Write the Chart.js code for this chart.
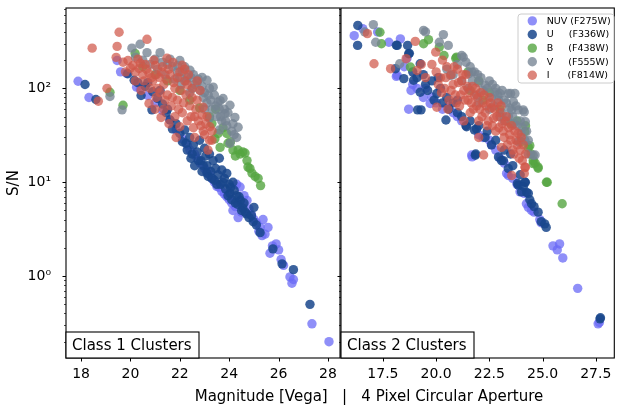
<!DOCTYPE html>
<html><head><meta charset="utf-8">
<script src="https://cdn.jsdelivr.net/npm/chart.js@4.4.1/dist/chart.umd.min.js"></script>
<style>
html,body{margin:0;padding:0;background:#fff;}
#wrap{position:relative;width:619px;height:409px;overflow:hidden;background:#fff;}
#c1{position:absolute;left:0;top:0;}
#c2{position:absolute;left:330px;top:0;}
</style></head><body>
<div id="wrap"><canvas id="c1" width="619" height="409"></canvas><canvas id="c2" width="289" height="409"></canvas></div>
<script>
// ---------- DATA ----------
const seriesLabels = ['NUV (F275W)', 'U     (F336W)', 'B     (F438W)', 'V     (F555W)', 'I      (F814W)'];
const panelLabels = ['Class 1 Clusters', 'Class 2 Clusters'];
const xAxisTitle = 'Magnitude [Vega]   |   4 Pixel Circular Aperture';
const yAxisTitle = 'S/N';
const class1XTicks = [18, 20, 22, 24, 26, 28];
const class2XTicks = [17.5, 20, 22.5, 25, 27.5];
const yMajorTicks = [1, 10, 100];
const yMajorLabels = ['10⁰', '10¹', '10²'];

// Class 1 clusters: [magnitude, S/N]
const class1NUV = [[17.88,119],[18.32,80],[19.46,198],[19.6,150],[19.85,144],[20.25,103],[20.4,98],[20.7,84],[21.0,70],[21.3,58],[21.6,46],[21.85,36],[22.1,29],[22.41,22],[22.6,20],[22.82,16],[23.0,14],[23.2,12],[23.4,10],[23.6,8.8],[23.8,7.5],[24.0,6.5],[24.15,5.0],[24.3,9.5],[24.36,4.2],[24.44,8.9],[24.5,4.8],[24.6,7.2],[24.72,6.4],[24.9,4.5],[25.1,3.7],[25.2,3.0],[25.33,2.7],[25.37,4.0],[25.57,3.3],[25.65,1.75],[25.9,2.2],[26.0,1.9],[26.1,1.5],[26.2,1.3],[26.46,0.98],[26.54,0.84],[26.6,0.92],[27.35,0.31],[28.04,0.20],
  [22.3,25],[22.7,18],[23.1,13],[23.3,11],[23.5,9],[23.7,8],[23.9,7],[24.1,6],[24.25,5.5],[24.55,5.8],[24.8,5.2],[25.0,4.0],[25.25,3.3],[25.45,2.8],[25.75,2.1]];
const class1U = [[18.16,110],[18.6,76],[19.89,143],[20.15,122],[20.3,115],[20.43,84],[20.6,105],[20.87,59],[20.9,92],[21.1,78],[21.3,68],[21.45,55],[21.6,46],[21.7,37],[21.85,42],[22.0,33],[22.1,27],[22.2,36],[22.3,22],[22.4,30],[22.45,18],[22.55,25],[22.6,15],[22.7,21],[22.8,28],[22.85,17],[22.9,13],[23.0,23],[23.05,19],[23.1,15],[23.15,11.5],[23.2,20],[23.25,13],[23.35,17],[23.4,10.5],[23.45,14],[23.55,12],[23.6,18],[23.65,9.5],[23.7,13.5],[23.8,11],[23.85,8.5],[23.9,12.4],[24.0,9.5],[24.03,7.6],[24.1,6.5],[24.15,10],[24.2,8.2],[24.3,7.2],[24.35,5.8],[24.45,6.4],[24.5,5.0],[24.6,6.0],[24.7,4.6],[24.8,4.2],[25.0,5.4],[24.97,3.8],[25.1,3.5],[25.25,2.9],[25.77,1.95],[26.14,1.35],[26.6,1.17],[27.27,0.5],
  [22.25,26],[22.5,20],[22.75,17],[22.95,15],[23.1,12.5],[23.3,11],[23.5,9.5],[23.75,10],[23.95,7.2],[24.05,8.8],[24.25,6],[24.4,7],[24.55,5.3],[24.65,4.8],[24.9,4.4],[21.5,60],[21.2,95],[20.7,115]];
const class1B = [[19.17,91],[19.7,66],[20.19,235],[20.5,170],[21.0,140],[21.5,120],[22.0,95],[22.4,75],[22.8,62],[23.2,50],[23.45,60],[23.3,42],[23.42,29],[23.63,23.5],[23.55,33],[23.75,38],[23.9,33],[23.95,26],[24.05,27],[24.15,22],[24.25,19],[24.36,22],[24.44,20],[24.55,21],[24.64,20.5],[24.72,17],[24.76,14.5],[24.84,14],[24.92,12.5],[25.05,11.5],[25.17,11],[25.27,9.2]];
const class1V = [[19.17,82],[19.66,59],[20.06,268],[20.39,295],[20.67,240],[21.2,240],[20.2,215],[20.5,200],[20.8,180],[21.0,205],[21.1,160],[21.3,190],[21.4,140],[21.6,205],[21.7,170],[21.8,125],[21.9,150],[22.0,198],[22.05,110],[22.2,170],[22.3,130],[22.41,156],[22.5,100],[22.55,140],[22.7,115],[22.82,95],[22.9,131],[22.95,80],[23.1,122],[23.1,70],[23.2,100],[23.3,60],[23.35,103],[23.4,85],[23.5,50],[23.55,71],[23.63,74],[23.7,45],[23.75,78],[23.8,60],[23.83,54],[23.9,40],[24.03,66],[24.1,35],[24.23,49],[24.3,30],[24.36,38.5],[24.03,26],[23.6,36],[23.2,48],
  [21.5,180],[21.9,175],[22.1,150],[22.25,120],[22.45,130],[22.6,110],[22.75,125],[22.9,105],[23.0,90],[23.15,85],[23.25,75],[23.45,65],[23.6,60],[23.65,50],[23.85,45],[23.95,55],[24.15,42],[24.2,32],[22.4,90],[23.0,60],[22.0,130]];
const class1I = [[18.45,268],[18.7,73],[19.05,100],[19.46,280],[19.54,396],[20.67,333],[19.42,214],[19.7,190],[19.9,198],[20.1,175],[20.3,205],[20.35,163],[20.43,95],[20.5,140],[20.6,180],[20.75,145],[20.75,69],[20.9,120],[20.95,200],[21.04,80],[21.1,100],[21.16,131],[21.24,49],[21.3,170],[21.35,110],[21.48,209],[21.5,85],[21.56,42],[21.6,140],[21.65,65],[21.72,189],[21.8,100],[21.85,30],[21.9,75],[22.0,39],[22.0,150],[22.09,176],[22.1,55],[22.2,120],[22.25,85],[22.3,45],[22.4,65],[22.5,100],[22.6,30],[22.6,50],[22.7,75],[22.82,95],[22.85,40],[22.94,63],[23.0,32],[23.1,50],[23.14,22],[23.22,39],[23.3,28],[21.0,60],[20.2,120],[19.8,150],[21.9,130],[22.35,140],
  [20.0,165],[20.2,150],[20.4,185],[20.55,120],[20.65,160],[20.8,100],[20.85,130],[21.0,175],[21.05,140],[21.2,90],[21.25,150],[21.4,75],[21.45,125],[21.55,160],[21.7,80],[21.75,115],[21.95,60],[22.05,95],[22.15,70],[22.3,110],[22.45,50],[22.5,80],[22.55,38],[22.65,60],[22.75,45],[22.9,52],[22.95,35],[23.05,42],[23.2,28],[23.3,35],[22.7,120],[22.2,160],[21.35,60],[21.8,50]];

// Class 2 clusters: [magnitude, S/N]
const class2NUV = [[16.15,364],[16.55,433],[17.25,398],[17.78,310],[18.32,337],[18.13,134],[18.17,138],[18.63,208],[18.71,60],[18.82,95],[19.72,69],[19.8,81],[19.5,100],[20.0,70],[20.3,60],[20.8,55],[21.2,45],[21.67,19.5],[21.69,18.6],[22.0,32],[22.5,28],[22.8,22],[23.0,18],[23.31,12.4],[23.39,11.8],[23.6,11],[23.94,7.9],[24.14,7.6],[24.24,5.9],[24.33,5.4],[24.48,5.0],[24.87,4.0],[24.93,3.7],[25.49,2.1],[25.8,2.2],[25.69,1.9],[25.95,1.56],[26.65,0.74],[27.61,0.31],[27.67,0.32],
  [18.5,170],[18.9,110],[19.1,100],[19.4,80],[20.6,65],[21.0,50],[22.2,30],[22.6,25],[23.2,16],[23.8,9.5],[24.6,4.8]];
const class2U = [[16.32,468],[16.31,287],[18.13,288],[18.17,287],[18.66,287],[18.71,234],[18.74,236],[19.25,183],[18.09,162],[18.48,127],[18.94,122],[19.25,91],[20.03,88],[19.13,59],[19.29,59],[19.5,110],[19.8,120],[20.2,100],[20.5,80],[20.46,46],[20.8,70],[21.0,55],[21.4,40],[21.43,39],[21.8,36],[21.9,37],[21.84,19.4],[21.86,20],[22.3,30],[22.6,25],[22.93,18.6],[23.07,17],[23.16,17],[23.39,14],[23.5,20],[23.82,9.7],[23.86,9.3],[24.01,7.9],[24.17,10],[24.19,10],[24.25,7.8],[24.33,7.6],[24.4,6.5],[24.48,5.9],[24.79,4.8],[24.94,3.8],[25.1,3.6],[25.17,3.3],[27.7,0.35],[27.72,0.36],
  [18.9,150],[19.1,130],[19.4,140],[19.6,95],[19.9,75],[20.1,130],[20.3,70],[20.6,60],[21.0,75],[21.2,50],[21.6,45],[22.0,40],[22.4,35],[22.8,28],[23.2,22],[23.6,15],[23.95,12],[24.1,9],[24.6,5.5]];
const class2B = [[17.36,396],[17.43,299],[18.79,169],[19.41,299],[19.64,330],[20.15,275],[20.37,224],[20.96,215],[20.92,209],[21.5,150],[21.6,95],[22.0,120],[22.2,75],[22.5,90],[23.0,60],[23.5,42],[23.8,45],[24.2,40],[24.17,34.5],[24.0,27],[24.33,23.5],[24.4,24.5],[24.46,20],[24.56,17],[24.65,16],[24.56,15.8],[24.79,14.5],[24.79,14.1],[25.18,10],[25.22,10],[25.92,5.9]];
const class2V = [[16.65,398],[17.05,478],[17.16,310],[18.29,183],[19.41,415],[19.5,400],[20.15,310],[20.34,374],[20.57,287],[21.27,215],[21.2,224],[21.0,180],[21.53,143],[21.69,149],[21.8,150],[22.0,115],[22.31,108],[22.5,120],[22.77,91],[22.8,100],[23.0,88],[23.2,75],[23.39,88],[23.5,88],[23.63,72],[23.7,88],[23.86,59],[24.09,59],[24.14,56],[24.19,44],[23.4,50],[23.8,40],[24.0,33],[24.17,28],[23.86,27],[24.33,28],[24.33,20],[24.56,19.4],[24.65,19.5],[22.0,70],[22.5,60],[23.0,50],[21.5,100],[21.9,85],[20.8,140],[21.2,120],[20.5,160],[20.68,137],[22.6,80],[23.2,45],[22.93,75],[23.55,59],
  [21.4,190],[21.6,170],[21.7,120],[21.95,140],[22.1,130],[22.2,95],[22.4,100],[22.65,110],[22.9,85],[23.1,95],[23.3,70],[23.45,62],[23.6,50],[23.75,65],[23.95,45],[24.05,38],[24.25,35],[22.7,65],[23.1,55],[23.65,42]];
const class2I = [[16.77,383],[17.08,183],[17.86,162],[18.59,207],[19.02,317],[19.1,155],[19.98,243],[20.03,63],[19.8,180],[20.0,150],[20.2,130],[20.3,200],[20.4,100],[20.5,170],[20.6,75],[20.7,140],[20.8,110],[20.9,85],[21.0,160],[21.1,65],[21.2,120],[21.3,95],[21.4,140],[21.5,75],[21.6,55],[21.7,105],[21.8,85],[21.9,65],[22.0,45],[22.1,90],[22.2,70],[22.23,19.5],[22.3,55],[22.4,40],[22.5,80],[22.6,62],[22.7,48],[22.8,35],[22.9,70],[23.0,55],[23.1,42],[23.07,23.5],[23.2,30],[23.3,50],[23.4,38],[23.5,28],[23.55,11.8],[23.6,22],[23.7,35],[23.8,25],[23.9,18],[24.0,30],[24.14,12.4],[24.17,14.5],[24.19,14.4],[24.2,20],[22.0,30],[21.3,45],
  [20.1,110],[20.25,90],[20.45,130],[20.55,60],[20.7,95],[20.85,170],[20.95,70],[21.05,115],[21.15,85],[21.25,140],[21.35,75],[21.45,105],[21.55,90],[21.65,70],[21.75,60],[21.85,100],[21.95,80],[22.05,60],[22.15,50],[22.25,85],[22.35,65],[22.45,45],[22.55,70],[22.65,40],[22.75,60],[22.85,50],[22.95,38],[23.05,65],[23.15,35],[23.25,45],[23.35,25],[23.45,32],[23.55,40],[23.65,20],[23.75,28],[23.85,33],[23.95,22],[24.05,17],[24.1,25],[19.5,130],[19.3,180]];

const class1Series = [class1NUV, class1U, class1B, class1V, class1I];
const class2Series = [class2NUV, class2U, class2B, class2V, class2I];

// ---------- STYLE ----------
const COLORS = ['rgba(105,105,245,0.75)', 'rgba(25,70,140,0.85)', 'rgba(85,165,65,0.8)', 'rgba(118,132,148,0.78)', 'rgba(208,88,74,0.72)'];
const FONT = 'DejaVu Sans';
const Y_MIN = 0.134, Y_MAX = 718;
const PT_R = 4.7;

function minorTicks(min, max) {
  const out = [];
  for (let e = -1; e <= 2; e++) for (let m = 2; m <= 9; m++) { const v = m * Math.pow(10, e); if (v >= min && v <= max) out.push(v); }
  return out;
}
const yMinor = minorTicks(Y_MIN, Y_MAX);

function makeDatasets(series) {
  return series.map((arr, i) => ({
    label: seriesLabels[i],
    data: arr.map(p => ({ x: p[0], y: p[1] })),
    backgroundColor: COLORS[i],
    borderWidth: 0,
    pointRadius: PT_R,
    pointHoverRadius: PT_R,
    order: 5 - i
  }));
}

function decoPlugin(panelIdx, xTicks) {
  return {
    id: 'deco' + panelIdx,
    afterDatasetsDraw(chart) {
      const ctx = chart.ctx, a = chart.chartArea, xs = chart.scales.x, ys = chart.scales.y;
      ctx.save();
      ctx.strokeStyle = '#000';
      ctx.lineWidth = 1;
      ctx.beginPath();
      yMajorTicks.forEach(v => { const y = Math.round(ys.getPixelForValue(v)) + 0.5; ctx.moveTo(a.left, y); ctx.lineTo(a.left - 3.5, y); });
      xTicks.forEach(v => { const x = Math.round(xs.getPixelForValue(v)) + 0.5; ctx.moveTo(x, a.bottom); ctx.lineTo(x, a.bottom + 3.5); });
      ctx.stroke();
      ctx.lineWidth = 0.7;
      ctx.beginPath();
      yMinor.forEach(v => { const y = Math.round(ys.getPixelForValue(v)) + 0.5; ctx.moveTo(a.left, y); ctx.lineTo(a.left - 2, y); });
      ctx.stroke();
      ctx.lineWidth = 1.1;
      ctx.strokeRect(a.left, a.top, a.right - a.left, a.bottom - a.top);
      const bw = 133, bh = 26;
      ctx.fillStyle = '#fff';
      ctx.fillRect(a.left, a.bottom - bh, bw, bh);
      ctx.strokeRect(a.left, a.bottom - bh, bw, bh);
      ctx.fillStyle = '#000';
      ctx.font = '15px "' + FONT + '"';
      ctx.textAlign = 'left';
      ctx.textBaseline = 'alphabetic';
      ctx.fillText(panelLabels[panelIdx], a.left + 6, a.bottom - 8);
      if (panelIdx === 0) {
        ctx.textAlign = 'center';
        ctx.textBaseline = 'middle';
        ctx.fillText(xAxisTitle, 369, 397);
      } else {
        const lx = 518 - 330, ly = 14, lw = 96, lh = 69, r = 3;
        ctx.beginPath();
        ctx.moveTo(lx + r, ly); ctx.lineTo(lx + lw - r, ly); ctx.quadraticCurveTo(lx + lw, ly, lx + lw, ly + r);
        ctx.lineTo(lx + lw, ly + lh - r); ctx.quadraticCurveTo(lx + lw, ly + lh, lx + lw - r, ly + lh);
        ctx.lineTo(lx + r, ly + lh); ctx.quadraticCurveTo(lx, ly + lh, lx, ly + lh - r);
        ctx.lineTo(lx, ly + r); ctx.quadraticCurveTo(lx, ly, lx + r, ly); ctx.closePath();
        ctx.fillStyle = 'rgba(255,255,255,0.8)';
        ctx.fill();
        ctx.strokeStyle = '#cccccc';
        ctx.lineWidth = 1;
        ctx.stroke();
        ctx.font = '9.5px "' + FONT + '"';
        ctx.textAlign = 'left';
        ctx.textBaseline = 'middle';
        seriesLabels.forEach((lab, i) => {
          const cy = 20.9 + 13.6 * i;
          ctx.beginPath();
          ctx.arc(532.3 - 330, cy, PT_R, 0, Math.PI * 2);
          ctx.fillStyle = COLORS[i];
          ctx.fill();
          ctx.fillStyle = '#000';
          ctx.fillText(lab, 546.7 - 330, cy + 0.5);
        });
      }
      ctx.restore();
    }
  };
}

function makeChart(canvasId, panelIdx, series, xmin, xmax, xTicks, xFmt, padRight, yWidth, showYLabels) {
  return new Chart(document.getElementById(canvasId), {
    type: 'scatter',
    data: { datasets: makeDatasets(series) },
    options: {
      responsive: false, maintainAspectRatio: false, animation: false, devicePixelRatio: 1,
      layout: { padding: { left: 0, right: padRight, top: 8, bottom: 0 } },
      plugins: { legend: { display: false }, tooltip: { enabled: false } },
      events: [],
      scales: {
        x: {
          type: 'linear', min: xmin, max: xmax,
          afterBuildTicks: s => { s.ticks = xTicks.map(v => ({ value: v })); },
          afterFit: s => { s.height = 51; s.paddingLeft = 0; s.paddingRight = 0; },
          grid: { display: false, drawTicks: false, tickLength: 0 },
          border: { display: false },
          ticks: { autoSkip: false, maxRotation: 0, padding: 8, color: '#000', font: { family: FONT, size: 14 }, callback: v => xFmt(v) }
        },
        y: {
          type: 'logarithmic', min: Y_MIN, max: Y_MAX,
          afterBuildTicks: s => { s.ticks = yMinor.concat(yMajorTicks).sort((p, q) => p - q).map(v => ({ value: v })); },
          afterFit: s => { s.width = yWidth; s.paddingTop = 0; s.paddingBottom = 0; },
          grid: { display: false, drawTicks: false, tickLength: 0 },
          border: { display: false },
          ticks: {
            display: showYLabels, autoSkip: false, padding: 15, color: '#000', font: { family: FONT, size: 14 },
            callback: v => { const i = yMajorTicks.findIndex(t => Math.abs(t - v) < 1e-9); return i >= 0 ? yMajorLabels[i] : ''; }
          },
          title: { display: showYLabels, text: yAxisTitle, color: '#000', font: { family: FONT, size: 15 }, padding: { top: 5, bottom: 0 } }
        }
      }
    },
    plugins: [decoPlugin(panelIdx, xTicks)]
  });
}

makeChart('c1', 0, class1Series, 17.39, 28.486, class1XTicks, v => String(v), 279, 66, true);
makeChart('c2', 1, class2Series, 15.53, 28.37, class2XTicks, v => v.toFixed(1), 2, 11, false);
</script>
</body></html>
